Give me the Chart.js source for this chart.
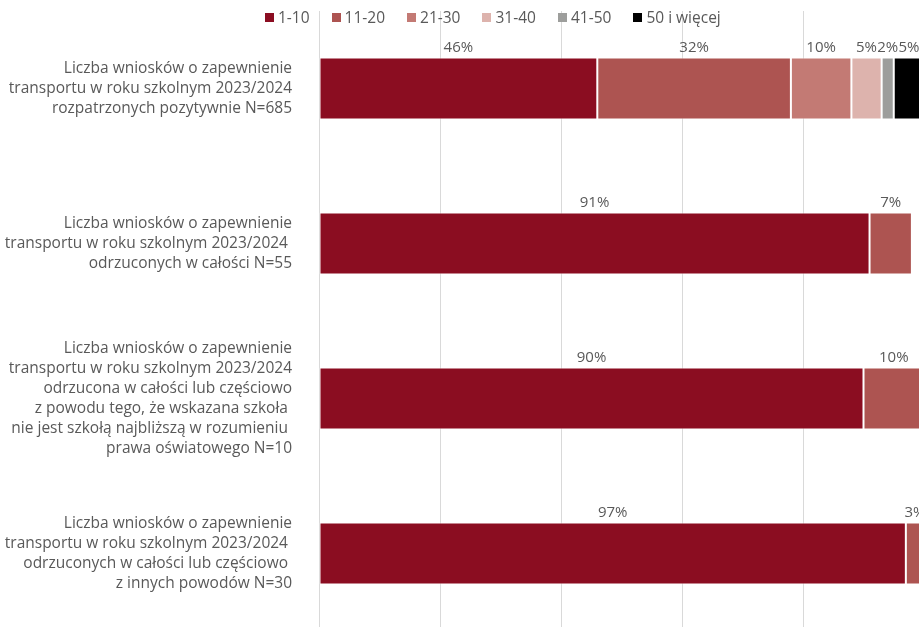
<!DOCTYPE html>
<html lang="pl">
<head>
<meta charset="utf-8">
<title>Liczba wniosków o zapewnienie transportu</title>
<script src="https://cdn.jsdelivr.net/npm/chart.js@4.4.1/dist/chart.umd.min.js"></script>
<style>
    html, body { margin: 0; padding: 0; background: #fff; overflow: hidden; }
    #wrap { position: absolute; left: 0; top: 0; width: 930px; height: 640px; }
    #legend {
        position: absolute; left: 265px; top: 8px;
        display: flex; gap: 22px;
        font-family: 'Open Sans', sans-serif; font-size: 15.5px; color: #595959;
        line-height: 19px; white-space: nowrap;
    }
    #legend span.box { display: inline-block; width: 9px; height: 9px; margin-right: 4px; vertical-align: 1px; }
</style>
</head>
<body>
<div id="wrap">
    <canvas id="chart"></canvas>
    <div id="legend"></div>
</div>
<script>
const categories = [
    ['Liczba wniosków o zapewnienie', 'transportu w roku szkolnym 2023/2024', 'rozpatrzonych pozytywnie N=685'],
    ['Liczba wniosków o zapewnienie', 'transportu w roku szkolnym 2023/2024 ', 'odrzuconych w całości N=55'],
    ['Liczba wniosków o zapewnienie', 'transportu w roku szkolnym 2023/2024', 'odrzucona w całości lub częściowo', 'z powodu tego, że wskazana szkoła ', 'nie jest szkołą najbliższą w rozumieniu ', 'prawa oświatowego N=10'],
    ['Liczba wniosków o zapewnienie', 'transportu w roku szkolnym 2023/2024 ', 'odrzuconych w całości lub częściowo ', 'z innych powodów N=30']
];

const seriesNames = ['1-10', '11-20', '21-30', '31-40', '41-50', '50 i więcej'];

// percent of applications per distance band, one array per band
const v1_10 = [46, 91, 90, 97];
const v11_20 = [32, 7, 10, 3];
const v21_30 = [10, 0, 0, 0];
const v31_40 = [5, 0, 0, 0];
const v41_50 = [2, 0, 0, 0];
const v50plus = [5, 0, 0, 0];

const colors = ['#8b0d21', '#ad5451', '#c37a74', '#ddb3ad', '#9d9e9c', '#000000'];

const seriesValues = [v1_10, v11_20, v21_30, v31_40, v41_50, v50plus];

const textColor = '#595959';
const fontFamily = "'Open Sans', sans-serif";
const fontSize = 15.5;

// percentages written above every segment
const segmentLabels = {
    id: 'segmentLabels',
    afterDatasetsDraw(chart) {
        const ctx = chart.ctx;
        ctx.save();
        ctx.font = '15px ' + fontFamily;
        ctx.fillStyle = textColor;
        ctx.textAlign = 'center';
        ctx.textBaseline = 'middle';
        chart.data.datasets.forEach((ds, i) => {
            const meta = chart.getDatasetMeta(i);
            meta.data.forEach((bar, j) => {
                const v = ds.data[j];
                if (!v) return;
                const x = (bar.base + bar.x) / 2;
                const y = bar.y - bar.height / 2 - 10;
                ctx.fillText(v + '%', x, y);
            });
        });
        ctx.restore();
    }
};

const datasets = seriesNames.map((name, i) => ({
    label: name,
    data: seriesValues[i],
    backgroundColor: colors[i],
    borderColor: 'rgba(255, 255, 255, 0.7)',
    borderWidth: 1,
    borderSkipped: false,
    categoryPercentage: 0.4,
    barPercentage: 1
}));

const config = {
    type: 'bar',
    data: {
        labels: categories,
        datasets: datasets
    },
    options: {
        indexAxis: 'y',
        responsive: true,
        maintainAspectRatio: false,
        animation: false,
        layout: {
            padding: { top: 11, right: 6, bottom: 9, left: 0 }
        },
        plugins: {
            legend: { display: false },
            tooltip: { enabled: false }
        },
        scales: {
            x: {
                stacked: true,
                min: 0,
                max: 100,
                ticks: { display: false, stepSize: 20 },
                grid: { color: '#d9d9d9', drawTicks: false },
                border: { display: false },
                afterFit(scale) {
                    scale.height = 0;
                    scale.paddingLeft = 0;
                    scale.paddingRight = 0;
                }
            },
            y: {
                stacked: true,
                grid: { display: false },
                border: { color: '#d9d9d9' },
                ticks: {
                    color: textColor,
                    padding: 19,
                    font: { family: fontFamily, size: fontSize, lineHeight: '20px' }
                },
                afterFit(scale) {
                    scale.width = 319;
                    scale.paddingTop = 0;
                    scale.paddingBottom = 0;
                }
            }
        }
    },
    plugins: [segmentLabels]
};

new Chart(document.getElementById('chart').getContext('2d'), config);

// legend row over the top of the plot
const legend = document.getElementById('legend');
seriesNames.forEach((name, i) => {
    const item = document.createElement('div');
    const box = document.createElement('span');
    box.className = 'box';
    box.style.background = colors[i];
    item.appendChild(box);
    item.appendChild(document.createTextNode(name));
    legend.appendChild(item);
});
</script>
</body>
</html>
